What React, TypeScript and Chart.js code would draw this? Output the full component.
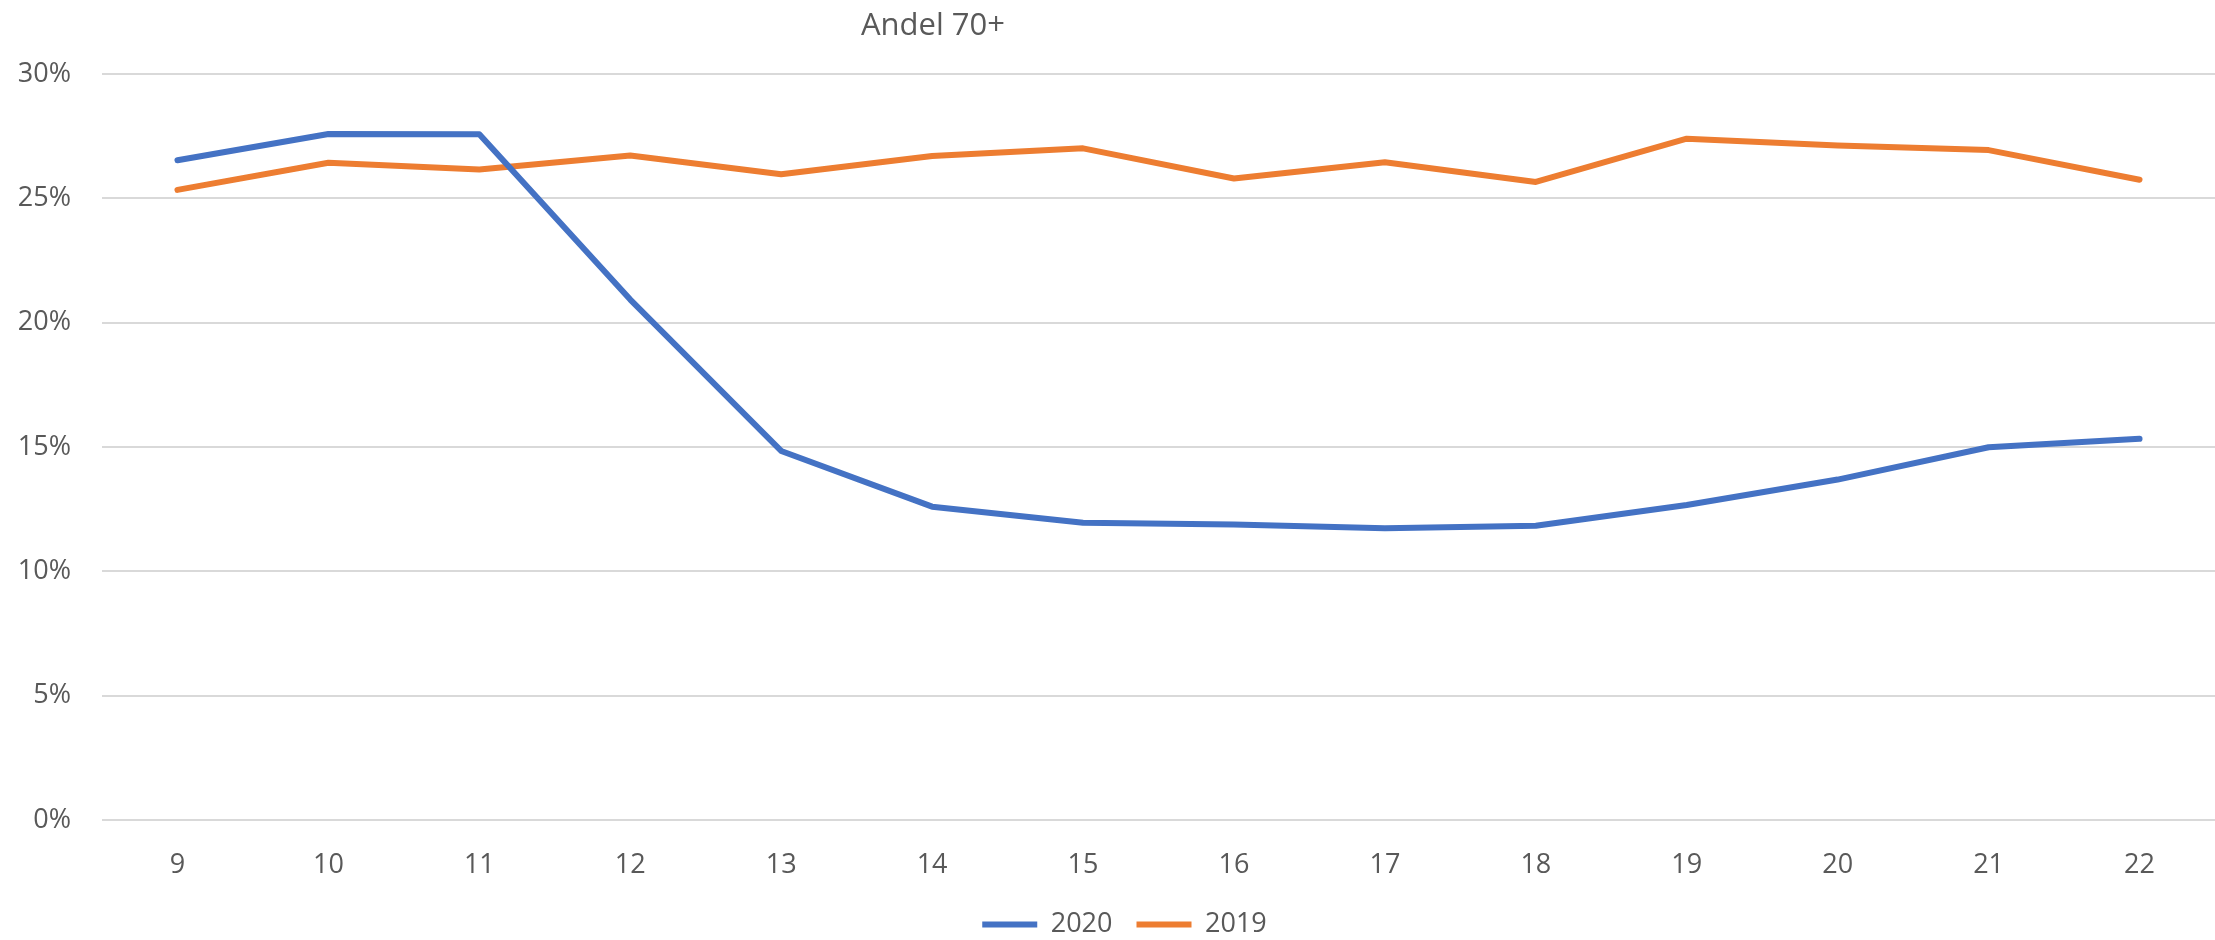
import React, { useEffect, useRef } from "react";
import { Chart, registerables } from "chart.js";

Chart.register(...registerables);

const weeks: string[] = ["9", "10", "11", "12", "13", "14", "15", "16", "17", "18", "19", "20", "21", "22"];
const series2020: number[] = [26.53, 27.59, 27.58, 20.93, 14.84, 12.6, 11.95, 11.88, 11.73, 11.83, 12.67, 13.69, 14.99, 15.33];
const series2019: number[] = [25.34, 26.43, 26.16, 26.72, 25.97, 26.7, 27.01, 25.8, 26.45, 25.66, 27.4, 27.12, 26.94, 25.75];
const yTicks: number[] = [0, 5, 10, 15, 20, 25, 30];
const titleText = "Andel 70+";

const FONT = "'Open Sans', 'Noto Sans', sans-serif";
const TEXT = "#595959";

const titlePlugin = {
  id: "excelTitle",
  afterLayout(chart: any) {
    if (chart.legend) {
      chart.legend.left += 17;
      chart.legend.right += 17;
    }
  },
  afterDraw(chart: any) {
    const ctx = chart.ctx;
    ctx.save();
    ctx.font = `31px ${FONT}`;
    ctx.fillStyle = TEXT;
    ctx.textAlign = "center";
    ctx.textBaseline = "alphabetic";
    ctx.fillText(titleText, 933, 35);
    ctx.restore();
  },
};

export default function App() {
  const ref = useRef<HTMLCanvasElement | null>(null);

  useEffect(() => {
    document.body.style.margin = "0";
    const canvas = ref.current;
    if (!canvas) return;
    const chart = new Chart(canvas, {
      type: "line",
      data: {
        labels: weeks,
        datasets: [
          {
            label: "2020",
            data: series2020,
            borderColor: "#4472C4",
            backgroundColor: "#4472C4",
            borderWidth: 6,
            pointRadius: 0,
            tension: 0,
            borderCapStyle: "round",
            borderJoinStyle: "round",
          },
          {
            label: "2019",
            data: series2019,
            borderColor: "#ED7D31",
            backgroundColor: "#ED7D31",
            borderWidth: 6,
            pointRadius: 0,
            tension: 0,
            borderCapStyle: "round",
            borderJoinStyle: "round",
          },
        ],
      },
      plugins: [titlePlugin],
      options: {
        animation: false,
        responsive: false,
        maintainAspectRatio: false,
        layout: { padding: { top: 74, left: 0, right: 0, bottom: -8 } },
        plugins: {
          title: { display: false },
          tooltip: { enabled: false },
          legend: {
            display: true,
            position: "bottom",
            labels: {
              usePointStyle: true,
              pointStyle: "line",
              pointStyleWidth: 55,
              boxHeight: 27,
              padding: 24,
              color: TEXT,
              font: { family: FONT, size: 27 },
            },
          },
        },
        scales: {
          x: {
            offset: true,
            grid: { display: false, drawTicks: false },
            border: { display: false },
            ticks: {
              color: TEXT,
              font: { family: FONT, size: 27 },
              padding: 29,
              maxRotation: 0,
              autoSkip: false,
            },
            afterFit: (scale: any) => {
              scale.height = 67;
            },
          },
          y: {
            min: 0,
            max: 30,
            afterBuildTicks: (scale: any) => {
              scale.ticks = yTicks.map((v) => ({ value: v }));
            },
            grid: { color: "#d9d9d9", lineWidth: 2, drawTicks: false },
            border: { display: false },
            ticks: {
              color: TEXT,
              font: { family: FONT, size: 27 },
              padding: 31,
              callback: (v: any) => `${v}%`,
            },
            afterFit: (scale: any) => {
              scale.width = 102;
            },
          },
        },
      },
    });
    return () => chart.destroy();
  }, []);

  return (
    <div style={{ width: 2215, height: 940 }}>
      <canvas ref={ref} width={2215} height={940} style={{ width: 2215, height: 940, display: "block" }} />
    </div>
  );
}
